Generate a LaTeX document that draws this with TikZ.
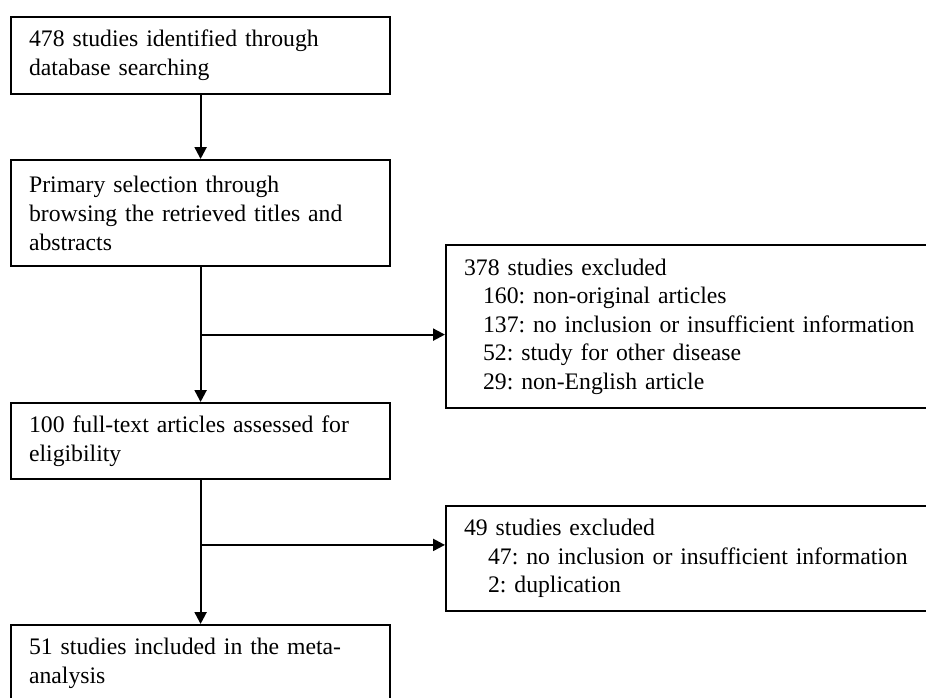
\documentclass[tikz,border=0pt]{standalone}
\usepackage{fontspec}
\setmainfont{Liberation Serif}
\usetikzlibrary{arrows.meta,calc}
\frenchspacing
\begin{document}
\begin{tikzpicture}[x=1pt,y=-1pt,
  box/.style={draw=black, line width=2.2pt, anchor=north west, inner xsep=18pt, inner ysep=0pt,
    align=left, font=\fontsize{23.7pt}{29pt}\selectfont},
  lbox/.style={box, text width=343pt},
  rbox/.style={box, text width=470pt, font=\fontsize{23.7pt}{28.4pt}\selectfont},
  arr/.style={line width=2.2pt, -{Triangle[length=12pt,width=12pt]}}]
\useasboundingbox (0,0) rectangle (926,697);
\node[lbox, minimum height=77pt] (b1) at (10,16) {478 studies identified through\\database searching};
\node[lbox, minimum height=106pt] (b2) at (10,159) {Primary selection through\\browsing the retrieved titles and\\abstracts};
\node[rbox, minimum height=163pt] (b3) at (445,244) {378 studies excluded\\\hspace*{19pt}160: non-original articles\\\hspace*{19pt}137: no inclusion or insufficient information\\\hspace*{19pt}52: study for other disease\\\hspace*{19pt}29: non-English article};
\node[lbox, minimum height=76pt] (b4) at (10,402) {100 full-text articles assessed for\\eligibility};
\node[rbox, minimum height=105pt] (b5) at (445,505) {49 studies excluded\\\hspace*{24pt}47: no inclusion or insufficient information\\\hspace*{24pt}2: duplication};
\node[lbox, minimum height=76pt] (b6) at (10,624) {51 studies included in the meta-\\analysis};
\coordinate (j1) at ($(b2.south)!0.5!(b4.north)$);
\coordinate (j2) at ($(b4.south)!0.45!(b6.north)$);
\draw[arr] (b1.south) -- (b2.north);
\draw[arr] (b2.south) -- (b4.north);
\draw[arr] (j1) -- (j1 -| b3.west);
\draw[arr] (b4.south) -- (b6.north);
\draw[arr] (j2) -- (j2 -| b5.west);
\end{tikzpicture}
\end{document}
